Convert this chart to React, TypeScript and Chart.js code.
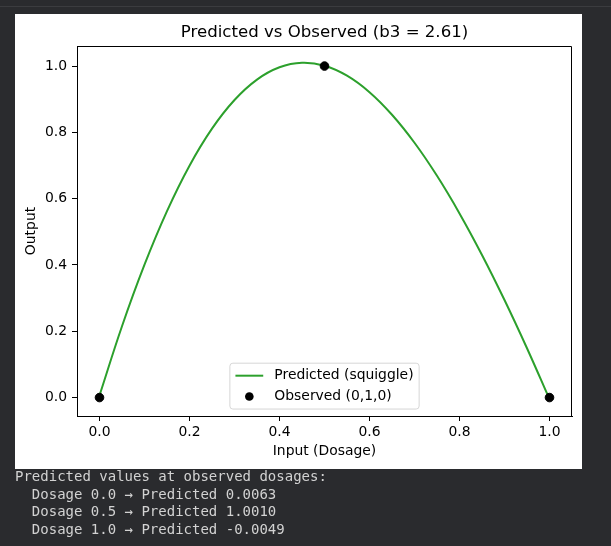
import React, { useEffect, useRef } from "react";
import { Chart, registerables } from "chart.js";

Chart.register(...registerables);

// ---- data ----
const dosage = [0, 0.05, 0.1, 0.15, 0.2, 0.25, 0.3, 0.35, 0.4, 0.45, 0.5, 0.55, 0.6, 0.65, 0.7, 0.75, 0.8, 0.85, 0.9, 0.95, 1.0];
const predicted = [0.0063, 0.2152, 0.4009, 0.5626, 0.6996, 0.8113, 0.8977, 0.9592, 0.9963, 1.0098, 1.001, 0.971, 0.9212, 0.8531, 0.7686, 0.6689, 0.5556, 0.4303, 0.2943, 0.1488, -0.0049];
const observedX = [0, 0.5, 1.0];
const observedY = [0, 1, 0];
const xTicks = [0, 0.2, 0.4, 0.6, 0.8, 1.0];
const yTicks = [0, 0.2, 0.4, 0.6, 0.8, 1.0];
const titleText = "Predicted vs Observed (b3 = 2.61)";
const xTitle = "Input (Dosage)";
const yTitle = "Output";
const legendLabels = ["Predicted (squiggle)", "Observed (0,1,0)"];
const outputLines = [
  "Predicted values at observed dosages:",
  "  Dosage 0.0 \u2192 Predicted 0.0063",
  "  Dosage 0.5 \u2192 Predicted 1.0010",
  "  Dosage 1.0 \u2192 Predicted -0.0049",
];

const FONT = "'DejaVu Sans', sans-serif";
const GREEN = "#2ca02c";
const FS = 13.9;

const framePlugin = {
  id: "mplFrame",
  afterDraw(chart: any) {
    const { ctx, chartArea: a } = chart;
    ctx.save();
    // title centred over the axes
    ctx.font = `16.6px ${FONT}`;
    ctx.fillStyle = "#000";
    ctx.textAlign = "center";
    ctx.textBaseline = "middle";
    ctx.fillText(titleText, (a.left + a.right) / 2, 18.5);

    // top & right spines
    ctx.strokeStyle = "#000";
    ctx.lineWidth = 1;
    const t = Math.round(a.top) + 0.5;
    const r = Math.round(a.right) - 0.5;
    const l = Math.round(a.left);
    const b = Math.round(a.bottom);
    ctx.beginPath();
    ctx.moveTo(l, t);
    ctx.lineTo(r, t);
    ctx.lineTo(r, b);
    ctx.stroke();

    // legend
    ctx.font = `${FS}px ${FONT}`;
    const textW = Math.max(...legendLabels.map((s) => ctx.measureText(s).width));
    const pad = 0.4 * FS;
    const handleLen = 2 * FS;
    const handlePad = 0.8 * FS;
    const labelSpacing = 0.5 * FS;
    const rowH = FS;
    const w = pad + handleLen + handlePad + textW + pad;
    const h = pad * 2 + rowH * 2 + labelSpacing;
    const cx = (a.left + a.right) / 2;
    const x0 = cx - w / 2;
    const y0 = a.bottom - 0.5 * FS - h;
    const rad = 3;
    ctx.beginPath();
    ctx.moveTo(x0 + rad, y0);
    ctx.lineTo(x0 + w - rad, y0);
    ctx.quadraticCurveTo(x0 + w, y0, x0 + w, y0 + rad);
    ctx.lineTo(x0 + w, y0 + h - rad);
    ctx.quadraticCurveTo(x0 + w, y0 + h, x0 + w - rad, y0 + h);
    ctx.lineTo(x0 + rad, y0 + h);
    ctx.quadraticCurveTo(x0, y0 + h, x0, y0 + h - rad);
    ctx.lineTo(x0, y0 + rad);
    ctx.quadraticCurveTo(x0, y0, x0 + rad, y0);
    ctx.closePath();
    ctx.fillStyle = "rgba(255,255,255,0.8)";
    ctx.fill();
    ctx.strokeStyle = "#d6d6d6";
    ctx.lineWidth = 1;
    ctx.stroke();

    const row1 = y0 + pad + rowH / 2;
    const row2 = row1 + rowH + labelSpacing;
    const hx0 = x0 + pad;
    const hx1 = hx0 + handleLen;
    ctx.strokeStyle = GREEN;
    ctx.lineWidth = 2;
    ctx.beginPath();
    ctx.moveTo(hx0, row1);
    ctx.lineTo(hx1, row1);
    ctx.stroke();
    ctx.fillStyle = "#000";
    ctx.beginPath();
    ctx.arc((hx0 + hx1) / 2, row2, 4.3, 0, Math.PI * 2);
    ctx.fill();

    ctx.fillStyle = "#000";
    ctx.textAlign = "left";
    ctx.textBaseline = "middle";
    ctx.fillText(legendLabels[0], hx1 + handlePad, row1);
    ctx.fillText(legendLabels[1], hx1 + handlePad, row2);
    ctx.restore();
  },
};

function ChartView() {
  const ref = useRef<HTMLCanvasElement | null>(null);
  useEffect(() => {
    if (!ref.current) return;
    const allY = [...predicted, ...observedY];
    const yMinD = Math.min(...allY);
    const yMaxD = Math.max(...allY);
    const yM = (yMaxD - yMinD) * 0.05;
    const allX = [...dosage, ...observedX];
    const xMinD = Math.min(...allX);
    const xMaxD = Math.max(...allX);
    const xM = (xMaxD - xMinD) * 0.05;

    const chart = new Chart(ref.current, {
      type: "line",
      data: {
        datasets: [
          {
            type: "scatter",
            label: legendLabels[1],
            data: observedX.map((x, i) => ({ x, y: observedY[i] })),
            backgroundColor: "#000",
            borderColor: "#000",
            pointRadius: 4.3,
            pointHoverRadius: 4.3,
            order: 0,
            clip: false as any,
          } as any,
          {
            type: "line",
            label: legendLabels[0],
            data: dosage.map((x, i) => ({ x, y: predicted[i] })),
            borderColor: GREEN,
            borderWidth: 2,
            pointRadius: 0,
            fill: false,
            tension: 0.4,
            order: 1,
          } as any,
        ],
      },
      options: {
        animation: false,
        responsive: false,
        maintainAspectRatio: false,
        layout: { padding: { left: 0, right: 10, top: 32, bottom: 0 } },
        font: { family: FONT },
        plugins: {
          legend: { display: false },
          tooltip: { enabled: false },
          title: { display: false },
        },
        scales: {
          x: {
            type: "linear",
            min: xMinD - xM,
            max: xMaxD + xM,
            afterBuildTicks: (s: any) => {
              s.ticks = xTicks.map((v) => ({ value: v }));
            },
            afterFit: (s: any) => {
              s.height = 53;
            },
            grid: { drawOnChartArea: false, tickLength: 5, tickColor: "#000", tickWidth: 1 },
            border: { color: "#000", width: 1 },
            ticks: {
              color: "#000",
              font: { family: FONT, size: FS },
              padding: 3,
              maxRotation: 0,
              autoSkip: false,
              callback: (v: any) => Number(v).toFixed(1),
            },
            title: {
              display: true,
              text: xTitle,
              color: "#000",
              font: { family: FONT, size: FS },
              padding: { top: 0, bottom: 9 },
            },
          },
          y: {
            type: "linear",
            min: yMinD - yM,
            max: yMaxD + yM,
            afterBuildTicks: (s: any) => {
              s.ticks = yTicks.map((v) => ({ value: v }));
            },
            afterFit: (s: any) => {
              s.width = 62;
            },
            grid: { drawOnChartArea: false, tickLength: 5, tickColor: "#000", tickWidth: 1 },
            border: { color: "#000", width: 1 },
            ticks: {
              color: "#000",
              font: { family: FONT, size: FS },
              padding: 5,
              autoSkip: false,
              callback: (v: any) => Number(v).toFixed(1),
            },
            title: {
              display: true,
              text: yTitle,
              color: "#000",
              font: { family: FONT, size: FS },
              padding: { top: 8.5, bottom: 0 },
            },
          },
        },
      },
      plugins: [framePlugin],
    });
    return () => chart.destroy();
  }, []);
  return <canvas ref={ref} width={567} height={455} style={{ display: "block" }} />;
}

export default function App() {
  return (
    <div
      style={{
        position: "fixed",
        left: 0,
        top: 0,
        width: 611,
        height: 546,
        background: "#2a2b2e",
        overflow: "hidden",
      }}
    >
      <div style={{ position: "absolute", left: 0, top: 6, width: 611, height: 1, background: "#3b3c3f" }} />
      <div style={{ position: "absolute", left: 15, top: 14, width: 567, height: 455, background: "#fff" }}>
        <ChartView />
      </div>
      <pre
        style={{
          position: "absolute",
          left: 15,
          top: 468,
          margin: 0,
          fontFamily: "'DejaVu Sans Mono', monospace",
          fontSize: 14,
          lineHeight: "17.5px",
          color: "#d2d2d2",
        }}
      >
        {outputLines.join("\n")}
      </pre>
    </div>
  );
}
